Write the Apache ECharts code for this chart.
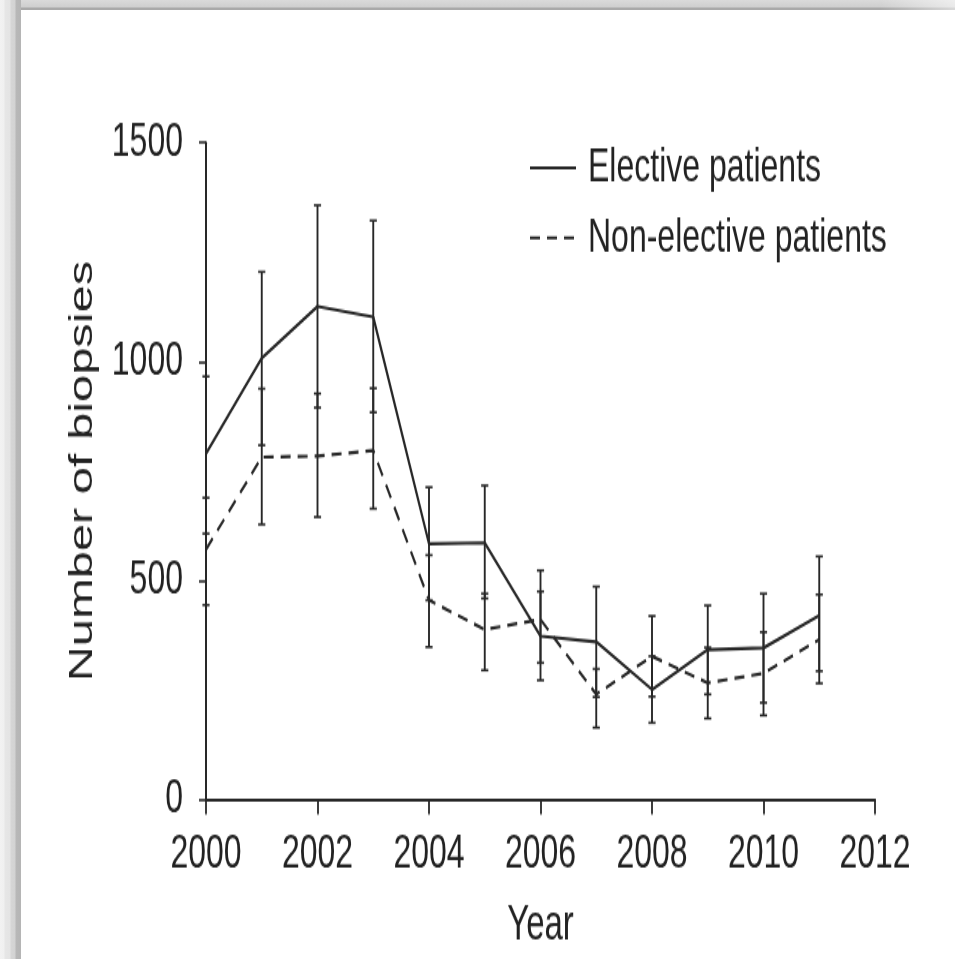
<!DOCTYPE html>
<html>
<head>
<meta charset="utf-8">
<script src="https://cdn.jsdelivr.net/npm/echarts@6/dist/echarts.min.js"></script>
<style>
  html, body { margin: 0; padding: 0; background: #fff; }
  #page { position: relative; width: 955px; height: 959px; overflow: hidden; background: #fff; }
  #chart { position: absolute; left: 0; top: 0; width: 955px; height: 640px;
           transform-origin: 0 0; transform: scaleY(1.4984); }
  #frameLeft { position: absolute; left: 0; top: 0; width: 21px; height: 959px;
    background: linear-gradient(to right, #f2f2f2 0px, #f0f0f0 4px, #e6e6e6 5px, #e4e4e4 10px, #d6d6d6 11px, #d3d3d3 15px, #b8b8b8 16px, #b5b5b5 21px); }
  #frameTop { position: absolute; left: 0; top: 0; width: 955px; height: 10px;
    background: linear-gradient(to bottom, #dadada 0px, #cfcfcf 7px, #a9a9a9 8px, #a9a9a9 10px); }
  #frameTopFade { position: absolute; left: 880px; top: 0; width: 75px; height: 10px;
    background: linear-gradient(to right, rgba(255,255,255,0) 0%, rgba(255,255,255,0.55) 100%); }
</style>
</head>
<body>
<div id="page">
  <div id="chart"></div>
  <div id="frameTop"></div>
  <div id="frameTopFade"></div>
  <div id="frameLeft"></div>
</div>
<script>
// Annual biopsy counts with error bars, 2000-2011
const years = [2000, 2001, 2002, 2003, 2004, 2005, 2006, 2007, 2008, 2009, 2010, 2011];

const elective     = [790, 1008, 1126, 1102, 584, 586, 373, 360, 251, 342, 346, 420];
const electiveLow  = [607,  809,  895,  884, 455, 459, 272, 234, 175, 240, 221, 293];
const electiveHigh = [966, 1205, 1357, 1322, 713, 717, 475, 486, 327, 443, 470, 555];

const nonElective     = [571, 782, 784, 797, 455, 388, 411, 240, 327, 266, 288, 365];
const nonElectiveLow  = [444, 628, 645, 664, 348, 295, 312, 164, 235, 185, 192, 265];
const nonElectiveHigh = [689, 938, 927, 939, 558, 470, 523, 298, 419, 347, 382, 468];

const xTicks = [2000, 2002, 2004, 2006, 2008, 2010, 2012];
const yTicks = [0, 500, 1000, 1500];

const seriesNames = ['Elective patients', 'Non-elective patients'];

const INK = '#282828';
const FONT = '"Liberation Sans", Arial, Helvetica, sans-serif';

const chart = echarts.init(document.getElementById('chart'), null, { renderer: 'canvas' });

function errorBarRenderer(params, api) {
  const x = api.value(0);
  const pLo = api.coord([x, api.value(1)]);
  const pHi = api.coord([x, api.value(2)]);
  const hw = 3.6;
  const stroke = { stroke: INK, lineWidth: 1.9 };
  const cap = { stroke: INK, lineWidth: 1.6 };
  return {
    type: 'group',
    children: [
      { type: 'line', shape: { x1: pLo[0], y1: pLo[1], x2: pHi[0], y2: pHi[1] }, style: stroke },
      { type: 'line', shape: { x1: pLo[0] - hw, y1: pLo[1], x2: pLo[0] + hw, y2: pLo[1] }, style: cap },
      { type: 'line', shape: { x1: pHi[0] - hw, y1: pHi[1], x2: pHi[0] + hw, y2: pHi[1] }, style: cap }
    ]
  };
}

const pairs = (vals) => years.map((y, i) => [y, vals[i]]);
const bars = (lo, hi) => years.map((y, i) => [y, lo[i], hi[i]]);

chart.setOption({
  animation: false,
  backgroundColor: 'transparent',
  textStyle: { fontFamily: FONT },
  grid: { left: 206, right: 80, top: 95.2, bottom: 106.5 },
  legend: {
    orient: 'vertical',
    left: 529,
    top: 96,
    padding: 0,
    itemWidth: 46,
    itemHeight: 14,
    itemGap: 14.7,
    data: seriesNames,
    itemStyle: { opacity: 0 },
    textStyle: { fontSize: 32, lineHeight: 32, color: '#222', fontFamily: FONT, padding: [0, 0, 0, 7] }
  },
  xAxis: {
    type: 'value',
    min: xTicks[0],
    max: xTicks[xTicks.length - 1],
    interval: 2,
    name: 'Year',
    nameLocation: 'middle',
    nameGap: 68,
    nameTextStyle: { fontSize: 33, color: '#222', fontFamily: FONT },
    axisLine: { show: true, lineStyle: { color: INK, width: 2 } },
    axisTick: { show: true, length: 10, lineStyle: { color: INK, width: 1.8 } },
    axisLabel: { margin: 20.5, fontSize: 32, lineHeight: 32, color: '#222', fontFamily: FONT,
                 formatter: (v) => String(v) },
    splitLine: { show: false }
  },
  yAxis: {
    type: 'value',
    min: yTicks[0],
    max: yTicks[yTicks.length - 1],
    interval: 500,
    name: 'Number of biopsies',
    nameLocation: 'middle',
    nameGap: 106,
    nameTextStyle: { fontSize: 32.6, color: '#222', fontFamily: FONT },
    axisLine: { show: true, lineStyle: { color: INK, width: 2 } },
    axisTick: { show: true, length: 7, lineStyle: { color: INK, width: 1.6 } },
    axisLabel: { margin: 23, fontSize: 32, color: '#222', fontFamily: FONT, padding: [6, 0, 0, 0],
                 formatter: (v) => String(v) },
    splitLine: { show: false }
  },
  series: [
    {
      name: seriesNames[0],
      type: 'line',
      data: pairs(elective),
      symbol: 'none',
      color: INK,
      lineStyle: { color: INK, width: 2.2, type: 'solid' },
      z: 3
    },
    {
      name: seriesNames[1],
      type: 'line',
      data: pairs(nonElective),
      symbol: 'none',
      color: INK,
      lineStyle: { color: INK, width: 2.2, type: [10, 7] },
      z: 3
    },
    {
      name: 'electiveErr',
      type: 'custom',
      renderItem: errorBarRenderer,
      data: bars(electiveLow, electiveHigh),
      encode: { x: 0, y: [1, 2] },
      z: 2
    },
    {
      name: 'nonElectiveErr',
      type: 'custom',
      renderItem: errorBarRenderer,
      data: bars(nonElectiveLow, nonElectiveHigh),
      encode: { x: 0, y: [1, 2] },
      z: 2
    }
  ]
});
</script>
</body>
</html>
